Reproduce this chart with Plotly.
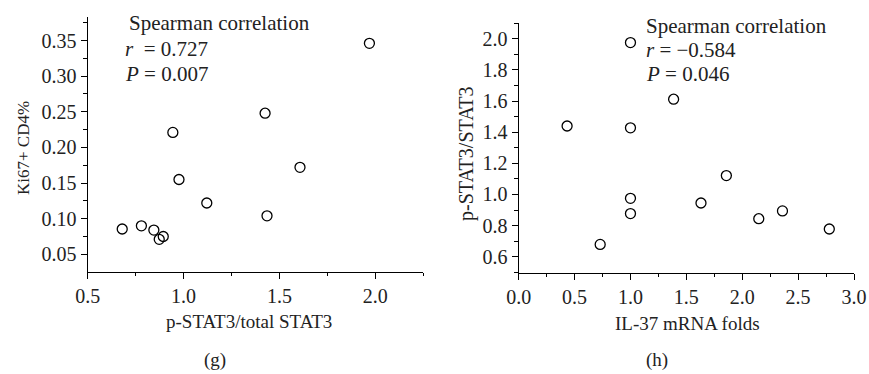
import plotly.graph_objects as go

# Panel (g)
g_x = [0.68, 0.78, 0.845, 0.873, 0.894, 0.944, 0.976, 1.121, 1.425, 1.435, 1.607, 1.969]
g_y = [0.0855, 0.090, 0.084, 0.071, 0.075, 0.221, 0.155, 0.122, 0.248, 0.104, 0.172, 0.346]
g_xlabel = "p-STAT3/total STAT3"
g_ylabel = "Ki67+ CD4%"
g_stats = ["Spearman correlation", "<i>r</i>  = 0.727", "<i>P</i> = 0.007"]

# Panel (h)
h_x = [0.433, 0.729, 1.0, 1.0, 1.0, 1.0, 1.386, 1.631, 1.858, 2.148, 2.360, 2.779]
h_y = [1.440, 0.679, 1.976, 1.428, 0.975, 0.877, 1.612, 0.945, 1.121, 0.844, 0.894, 0.778]
h_xlabel = "IL-37 mRNA folds"
h_ylabel = "p-STAT3/STAT3"
h_stats = ["Spearman correlation", "<i>r</i> = \u22120.584", "<i>P</i> = 0.046"]

W, H = 869, 374
FONT = "Liberation Serif"
TICK_FS = 20
COLOR = "#222"


def px(x):
    return x / W


def py(y):
    return 1 - y / H


marker = dict(symbol="circle-open", size=10, color="black", line=dict(width=1.3, color="black"))

fig = go.Figure()
fig.add_trace(go.Scatter(x=g_x, y=g_y, mode="markers", marker=marker, xaxis="x", yaxis="y",
                         showlegend=False, hoverinfo="skip"))
fig.add_trace(go.Scatter(x=h_x, y=h_y, mode="markers", marker=marker, xaxis="x2", yaxis="y2",
                         showlegend=False, hoverinfo="skip"))

axis_common = dict(
    showline=True, linecolor="black", linewidth=1.3, ticks="outside", ticklen=6, tickwidth=1.2,
    tickcolor="black", showgrid=False, zeroline=False, mirror=False, automargin=False,
    tickfont=dict(family=FONT, size=TICK_FS, color=COLOR),
)
minor_common = dict(ticks="outside", ticklen=3.5, tickcolor="black", tickwidth=1.2)

fig.update_layout(
    template="none",
    width=W, height=H,
    margin=dict(l=0, r=0, t=0, b=0, pad=0),
    paper_bgcolor="white", plot_bgcolor="white",
    font=dict(family=FONT, size=TICK_FS, color=COLOR),
    xaxis=dict(axis_common, domain=[px(87.7), px(423.3)], range=[0.5, 2.25], dtick=0.5, tick0=0.5,
               tickformat=".1f", anchor="y", minor=dict(minor_common, dtick=0.25, tick0=0.5)),
    yaxis=dict(axis_common, domain=[py(271.7), py(17)], range=[0.0256, 0.383], dtick=0.05, tick0=0.05,
               tickformat=".2f", anchor="x", minor=dict(minor_common, dtick=0.025, tick0=0.05)),
    xaxis2=dict(axis_common, domain=[px(518.7), px(854)], range=[0, 3.0], dtick=0.5, tick0=0,
                tickformat=".1f", anchor="y2", minor=dict(minor_common, dtick=0.25, tick0=0)),
    yaxis2=dict(axis_common, domain=[py(272.7), py(23.3)], range=[0.497, 2.1], dtick=0.2, tick0=0.6,
                tickformat=".1f", anchor="x2", minor=dict(minor_common, dtick=0.1, tick0=0.6)),
)

ann = []


def add_text(text, x, y, size, xanchor="center", angle=0):
    ann.append(dict(text=text, x=px(x), y=py(y), xref="paper", yref="paper", xanchor=xanchor,
                    yanchor="middle", showarrow=False, textangle=angle,
                    font=dict(family=FONT, size=size, color=COLOR)))


# stats text
for i, t in enumerate(g_stats):
    add_text(t, 127 if i == 0 else 123, [23, 49, 74][i], 21, xanchor="left")
for i, t in enumerate(h_stats):
    add_text(t, 644, [26, 50, 74][i], 21, xanchor="left")

# axis titles
add_text(g_xlabel, 249, 321, 19)
add_text(g_ylabel, 23, 148, 17, angle=-90)
add_text(h_xlabel, 687, 323, 19)
add_text(h_ylabel, 466, 153, 20, angle=-90)

# panel labels
add_text("(g)", 215, 360, 19)
add_text("(h)", 657, 360, 19)

fig.update_layout(annotations=ann)

fig.write_html("out.html", config={"displayModeBar": False},
               post_script="document.body.style.margin='0';document.body.style.overflow='hidden';")
